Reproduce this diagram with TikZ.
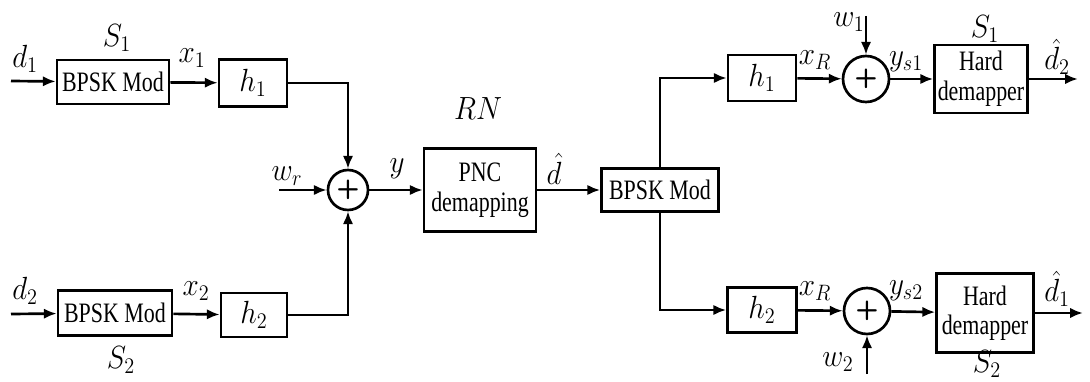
\documentclass[tikz,border=0pt]{standalone}
\usepackage{amsmath}
\usepackage{fontspec}
\setmainfont[FakeStretch=0.78]{Liberation Serif}
\usetikzlibrary{shapes,arrows.meta,positioning,calc}
\newcommand{\mlab}[1]{{\fontsize{20}{20}\selectfont\scalebox{1}[1.1]{$#1$}}}

\begin{document}
\begin{tikzpicture}[x=0.025cm, y=-0.025cm,
  font=\fontsize{20}{21}\selectfont,
  blk/.style={draw, line width=1.9pt, align=center, inner sep=1pt},
  lbl/.style={inner sep=1pt},
  sumnode/.style={draw, circle, line width=1.9pt, minimum size=1cm, inner sep=0pt, font=\fontsize{19}{19}\selectfont\sffamily\bfseries},
  sig/.style={line width=1.9pt, -{Latex[length=3.2mm,width=2.6mm]}}]
\useasboundingbox (0,0) rectangle (1090,381);
% source side
\node[blk, minimum width=2.8cm, minimum height=1.1cm] (mod1) at (113,82) {BPSK Mod};
\node[blk, minimum width=1.7cm, minimum height=1.175cm] (ch1) at (253,83) {\mlab{h_1}};
\node[blk, minimum width=2.85cm, minimum height=1.125cm] (mod2) at (115,313) {BPSK Mod};
\node[blk, minimum width=1.65cm, minimum height=1.1cm] (ch2) at (254,315) {\mlab{h_2}};
\coordinate (in1) at (11,81);
\coordinate (in2) at (11,314);
\node[lbl] (d1) at (25,59) {\mlab{d_1}};
\node[lbl] (d2) at (25,291) {\mlab{d_2}};
\node[lbl] (s1) at (117,38) {\mlab{S_1}};
\node[lbl] (s2) at (121,360) {\mlab{S_2}};
\node[lbl] (x1) at (192,58) {\mlab{x_1}};
\node[lbl] (x2) at (196,291) {\mlab{x_2}};
\draw[sig] (in1) -- (mod1);
\draw[sig] (mod1) -- (ch1);
\draw[sig] (in2) -- (mod2);
\draw[sig] (mod2) -- (ch2);
% relay
\node[sumnode] (sumr) at (348,190) {+};
\coordinate (wrin) at (279,190);
\node[lbl] (wr) at (287,176) {\mlab{w_r}};
\draw[sig] (ch1.east) -| (sumr.north);
\draw[sig] (ch2.east) -| (sumr.south);
\draw[sig] (wrin) -- (sumr.west);
\node[blk, minimum width=2.8cm, minimum height=2.075cm] (pnc) at (480,190) {PNC\\demapping};
\node[lbl] (rn) at (478,109) {\mlab{RN}};
\node[lbl] (y) at (397,169) {\mlab{y}};
\draw[sig] (sumr.east) -- (pnc.west);
\node[blk, minimum width=2.925cm, minimum height=1.075cm] (modr) at (660,190) {BPSK Mod};
\node[lbl] (dh) at (554,169) {\mlab{\hat{d}}};
\draw[sig] (pnc.east |- modr.west) -- (modr.west);
% destinations
\node[blk, minimum width=1.7cm, minimum height=1.15cm] (ch3) at (762,78) {\mlab{h_1}};
\node[blk, minimum width=1.725cm, minimum height=1.125cm] (ch4) at (762,310) {\mlab{h_2}};
\draw[sig] (modr.north) |- (ch3.west);
\draw[sig] (modr.south) |- (ch4.west);
\node[sumnode, minimum size=1.15cm] (sum1) at (866,79) {+};
\node[sumnode, minimum size=1.15cm] (sum2) at (867,311) {+};
\node[lbl] (xr1) at (815,60) {\mlab{x_R}};
\node[lbl] (xr2) at (815,291) {\mlab{x_R}};
\draw[sig] (ch3) -- (sum1);
\draw[sig] (ch4) -- (sum2);
\coordinate (w1in) at (866,16);
\coordinate (w2in) at (867,374);
\node[lbl] (w1) at (849,22) {\mlab{w_1}};
\node[lbl] (w2) at (838,362) {\mlab{w_2}};
\draw[sig] (w1in) -- (sum1.north);
\draw[sig] (w2in) -- (sum2.south);
\node[blk, minimum width=2.325cm, minimum height=1.7cm] (hd1) at (981,79) {Hard\\demapper};
\node[blk, minimum width=2.425cm, minimum height=1.975cm] (hd2) at (985,313) {Hard\\demapper};
\node[lbl] (ys1) at (906,62) {\mlab{y_{s1}}};
\node[lbl] (ys2) at (906,291) {\mlab{y_{s2}}};
\draw[sig] (sum1) -- (hd1);
\draw[sig] (sum2) -- (hd2);
\node[lbl] (s1r) at (985,29) {\mlab{S_1}};
\node[lbl] (s2r) at (987,364) {\mlab{S_2}};
\coordinate (out1) at (1078,79);
\coordinate (out2) at (1083,313);
\node[lbl] (dh2) at (1057,57) {\mlab{\hat{d}_2}};
\node[lbl] (dh1) at (1057,289) {\mlab{\hat{d}_1}};
\draw[sig] (hd1) -- (out1);
\draw[sig] (hd2) -- (out2);
\end{tikzpicture}
\end{document}
